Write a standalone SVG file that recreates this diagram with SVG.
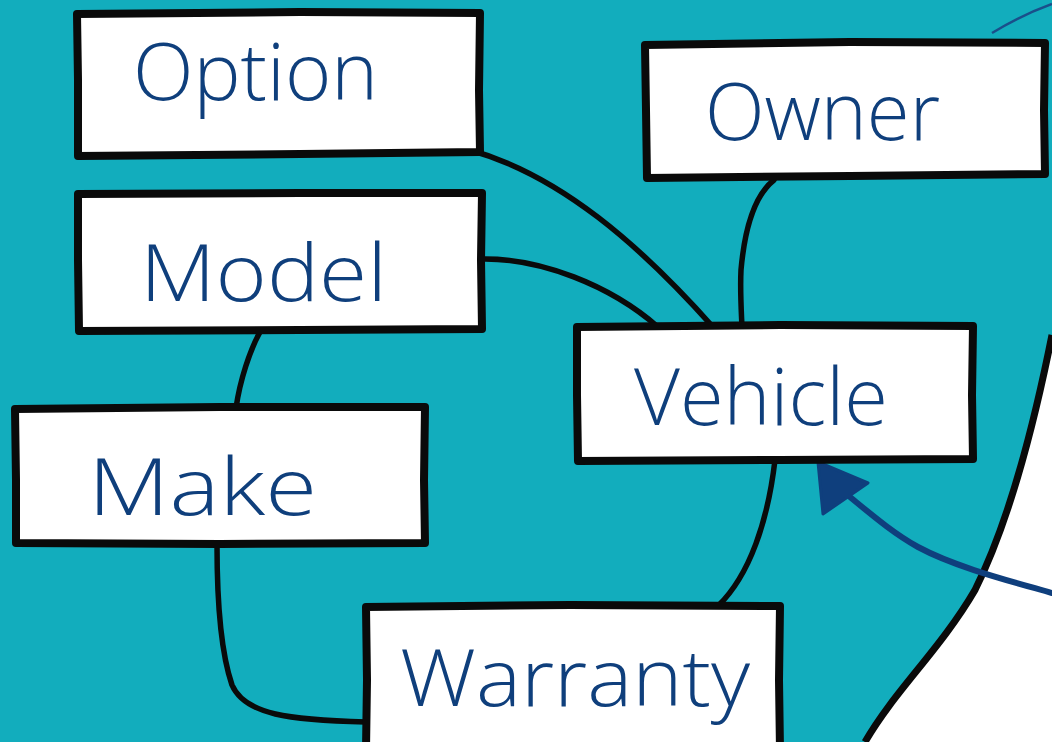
<svg xmlns="http://www.w3.org/2000/svg" width="1052" height="742" viewBox="0 0 1052 742">
<style>
.box{fill:#ffffff;stroke:#0a0a0a;stroke-width:8;stroke-linejoin:round;stroke-linecap:round}
.lbl{font-family:"Open Sans","Liberation Sans",sans-serif;font-weight:300;fill:#0f3f7c;font-size:80px}
.con{fill:none;stroke:#0a0a0a;stroke-width:5.5;stroke-linecap:round}
</style>
<rect x="0" y="0" width="1052" height="742" fill="#12adbd"/>
<path d="M1052,335 C1035,420 1010,520 975,590 C940,650 895,690 865,742 L1052,742 Z" fill="#ffffff"/>
<path d="M1052,335 C1035,420 1010,520 975,590 C940,650 895,690 865,742" fill="none" stroke="#0a0a0a" stroke-width="7"/>
<path d="M992,33 C1010,22 1030,12 1052,4" fill="none" stroke="#1a4f8a" stroke-width="2.5"/>
<g id="connectors">
<path class="con" d="M470,150 C560,175 640,245 713,327"/>
<path class="con" d="M482,259 C540,258 610,285 658,327"/>
<path class="con" d="M774,180 C755,195 745,225 741,270 C740,290 741,305 742,327"/>
<path class="con" d="M260,332 C250,350 240,380 236,408"/>
<path class="con" d="M217,545 C217,600 220,650 232,685 C245,715 290,720 366,722"/>
<path class="con" d="M775,460 C768,520 750,575 718,606"/>
</g>
<g id="arrow">
<path d="M1052,593 C1010,581 955,567 918,547 C893,533 872,515 850,497" fill="none" stroke="#0f3f7d" stroke-width="6" stroke-linecap="round"/>
<polygon points="818,462 868,483 823,514" fill="#0f3f7d" stroke="#0f3f7d" stroke-width="3" stroke-linejoin="round"/>
</g>
<g id="node-option">
<path class="box" d="M77,14 L300,12 L480,13 L479,90 L480,152 L300,154 L78,156 L78,80 Z"/>
<text class="lbl" x="133" y="100" textLength="245" lengthAdjust="spacingAndGlyphs">Option</text>
</g>
<g id="node-model">
<path class="box" d="M78,194 L300,193 L482,193 L481,260 L482,329 L300,330 L79,331 L78,260 Z"/>
<text class="lbl" x="140" y="301" textLength="247" lengthAdjust="spacingAndGlyphs">Model</text>
</g>
<g id="node-make">
<path class="box" d="M15,409 L220,407 L425,407 L424,480 L425,543 L220,544 L16,543 L16,480 Z"/>
<text class="lbl" x="88" y="515" textLength="229" lengthAdjust="spacingAndGlyphs">Make</text>
</g>
<g id="node-vehicle">
<path class="box" d="M577,327 L780,325 L973,326 L972,395 L973,459 L780,460 L578,461 L577,395 Z"/>
<text class="lbl" x="634" y="425" textLength="254" lengthAdjust="spacingAndGlyphs">Vehicle</text>
</g>
<g id="node-owner">
<path class="box" d="M645,45 L850,42 L1045,43 L1044,110 L1045,174 L850,176 L647,178 L646,110 Z"/>
<text class="lbl" x="705" y="140" textLength="235" lengthAdjust="spacingAndGlyphs">Owner</text>
</g>
<g id="node-warranty">
<path class="box" d="M366,607 L570,605 L780,606 L779,680 L780,750 L366,750 L367,680 Z"/>
<text class="lbl" x="400" y="706" textLength="350" lengthAdjust="spacingAndGlyphs">Warranty</text>
</g>
</svg>
